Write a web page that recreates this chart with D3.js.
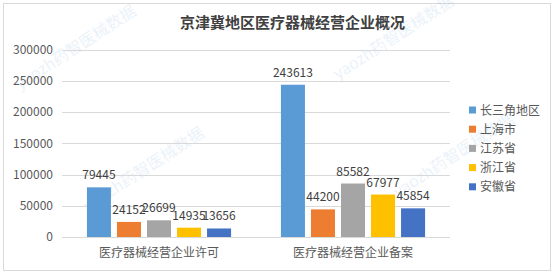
<!DOCTYPE html>
<html>
<head>
<meta charset="utf-8">
<script src="https://cdn.jsdelivr.net/npm/d3@7"></script>
<style>
  body { margin: 0; background: #fff; }
  svg text { font-family: "Noto Sans CJK SC", "Noto Sans", sans-serif; }
</style>
</head>
<body>
<svg class="chart"></svg>
<script>
// chart data
var categories = ["医疗器械经营企业许可", "医疗器械经营企业备案"];
var seriesNames = ["长三角地区", "上海市", "江苏省", "浙江省", "安徽省"];
var seriesValues = [
  [79445, 243613],
  [24152, 44200],
  [26699, 85582],
  [14935, 67977],
  [13656, 45854]
];
var yTicks = [0, 50000, 100000, 150000, 200000, 250000, 300000];
var colors = ["#5B9BD5", "#ED7D31", "#A5A5A5", "#FFC000", "#4472C4"];
var title = "京津冀地区医疗器械经营企业概况";
var watermark = "yaozh药智医械数据";

var W = 554, H = 274;
var plot = {left: 62, right: 450, top: 49.5, bottom: 237};

var svg = d3.select(".chart")
  .attr("width", W)
  .attr("height", H);

// frame
svg.append("rect")
  .attr("x", 3.5).attr("y", 3.5)
  .attr("width", 547).attr("height", 267)
  .attr("fill", "#fff")
  .attr("stroke", "#d9d9d9");

// faint watermarks (behind the chart)
var marks = [[20, 90], [88, 212], [338, 80], [398, 198]];
svg.append("g")
  .selectAll("text")
  .data(marks)
  .enter().append("text")
  .attr("transform", function(d) { return "translate(" + d[0] + "," + d[1] + ") rotate(-33)"; })
  .attr("fill", "#5B9BD5")
  .attr("opacity", 0.12)
  .style("font-size", "16px")
  .text(watermark);

// scales
var x0 = d3.scaleBand()
  .domain(categories)
  .range([plot.left, plot.right]);

var x1 = d3.scaleBand()
  .domain(d3.range(seriesNames.length))
  .range([0, x0.bandwidth()])
  .paddingInner(0.2)
  .paddingOuter(0.83);

var y = d3.scaleLinear()
  .domain([0, 300000])
  .range([plot.bottom, plot.top]);

// gridlines
svg.append("g")
  .selectAll("line")
  .data(yTicks)
  .enter().append("line")
  .attr("x1", plot.left).attr("x2", plot.right)
  .attr("y1", function(d) { return Math.round(y(d)) + 0.5; })
  .attr("y2", function(d) { return Math.round(y(d)) + 0.5; })
  .attr("stroke", "#d9d9d9");

// y axis labels
var yAxis = d3.axisLeft(y).tickValues(yTicks).tickFormat(d3.format("d")).tickSize(0).tickPadding(0);
var yg = svg.append("g")
  .attr("transform", "translate(53,0)")
  .call(yAxis);
yg.select(".domain").remove();
yg.selectAll("text")
  .attr("x", 0)
  .attr("fill", "#595959")
  .style("font-size", "12px");

// x axis labels
var xAxis = d3.axisBottom(x0).tickSize(0).tickPadding(0);
var xg = svg.append("g")
  .attr("transform", "translate(0," + plot.bottom + ")")
  .call(xAxis);
xg.select(".domain").remove();
xg.selectAll("text")
  .attr("y", 11)
  .attr("fill", "#595959")
  .style("font-size", "12px");

// bars and labels
var groups = svg.append("g")
  .selectAll("g")
  .data(seriesNames)
  .enter().append("g");

groups.each(function(name, i) {
  var g = d3.select(this);
  var vals = seriesValues[i].map(function(v, j) { return {cat: categories[j], v: v}; });
  g.selectAll("rect")
    .data(vals)
    .enter().append("rect")
    .attr("x", function(d) { return x0(d.cat) + x1(i); })
    .attr("y", function(d) { return y(d.v); })
    .attr("width", x1.bandwidth())
    .attr("height", function(d) { return y(0) - y(d.v); })
    .attr("fill", colors[i]);
  g.selectAll("text")
    .data(vals)
    .enter().append("text")
    .attr("x", function(d) { return x0(d.cat) + x1(i) + x1.bandwidth() / 2; })
    .attr("y", function(d) { return y(d.v) - 8; })
    .attr("text-anchor", "middle")
    .attr("fill", "#404040")
    .style("font-size", "12px")
    .text(function(d) { return d.v; });
});

// legend
var legend = svg.append("g")
  .selectAll("g")
  .data(seriesNames)
  .enter().append("g")
  .attr("transform", function(d, i) { return "translate(469," + (110 + i * 19.2) + ")"; });
legend.append("rect")
  .attr("x", 0).attr("y", -3.5)
  .attr("width", 7).attr("height", 7)
  .attr("fill", function(d, i) { return colors[i]; });
legend.append("text")
  .attr("x", 11).attr("y", 4.5)
  .attr("fill", "#595959")
  .style("font-size", "12px")
  .text(function(d) { return d; });

// title
svg.append("text")
  .attr("x", 292.5).attr("y", 28)
  .attr("text-anchor", "middle")
  .attr("fill", "#404040")
  .style("font-size", "15px")
  .style("font-weight", "bold")
  .text(title);
</script>
</body>
</html>
